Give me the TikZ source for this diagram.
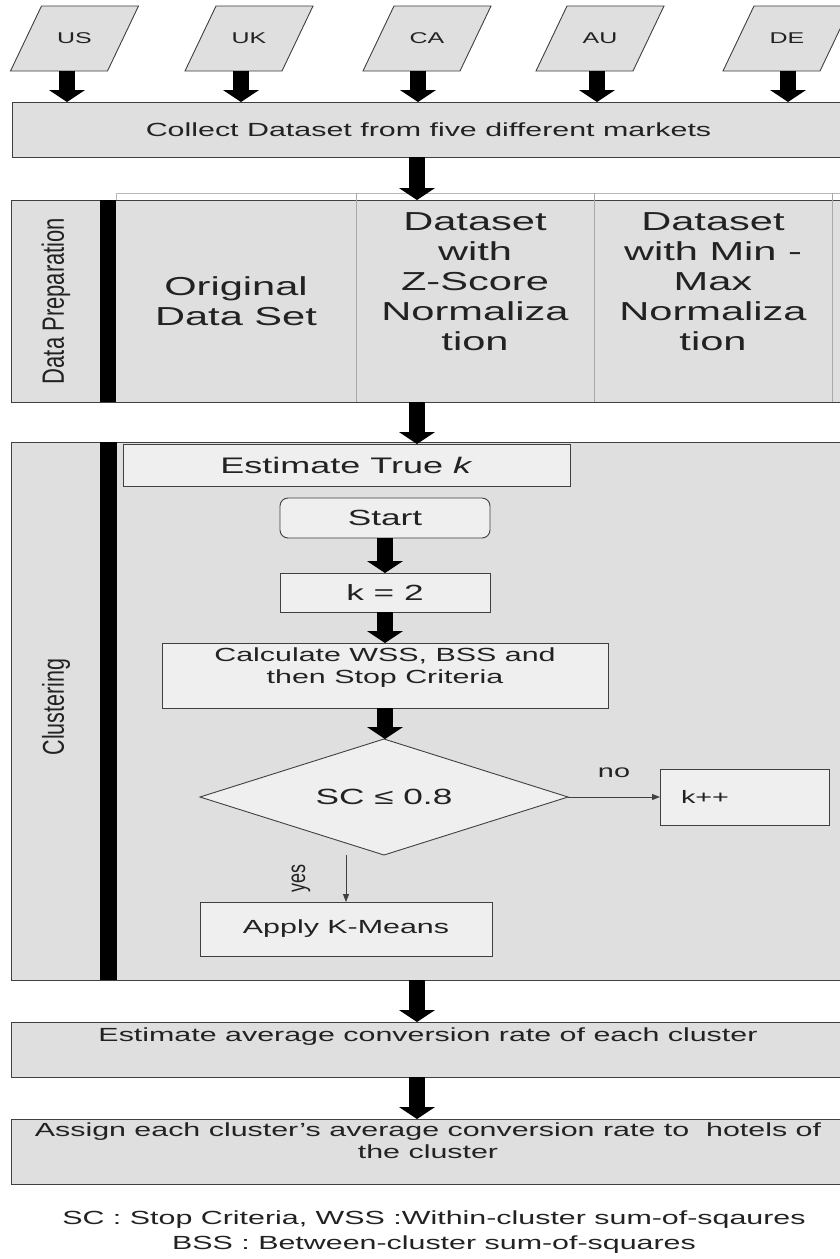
\documentclass[tikz,border=0pt]{standalone}
\usepackage{fontspec}
\usepackage{graphicx}
\setmainfont{Liberation Sans}[FakeStretch=1.6]
\newfontfamily\rotfont{Liberation Sans}
\usetikzlibrary{arrows.meta,shapes.geometric}
\definecolor{bord}{HTML}{404040}
\definecolor{boxgray}{HTML}{DFDFDF}
\definecolor{innergray}{HTML}{EFEFEF}
\definecolor{sepgray}{HTML}{A8A8A8}
\definecolor{txt}{HTML}{222222}
\newcommand{\fs}[2]{\fontsize{#1}{#2}\selectfont}
\begin{document}
\begin{tikzpicture}[x=1pt,y=-1pt,
  every node/.style={text=txt, inner sep=0pt, outer sep=0pt},
  bigbox/.style={draw=bord, fill=boxgray, line width=0.9pt},
  smallbox/.style={draw=bord, fill=innergray, line width=0.9pt},
  pbox/.style={draw=bord, fill=boxgray, line width=0.9pt},
  mtext/.style={minimum width=96pt, minimum height=65pt, font=\fs{15.6}{18}},
  colsep/.style={draw=sepgray, line width=0.7pt},
  bar/.style={fill=black, draw=none},
  fat/.style={draw=black, line width=16pt, -{Triangle[width=36pt,length=12pt,line width=0pt]}},
  thin/.style={draw=bord, line width=1pt, -{Triangle[width=6pt,length=8pt]}},
  boxtext/.style={font=\fs{19}{22}, align=center},
  coltext/.style={font=\fs{26}{30}, align=center},
  sidelab/.style={rotate=90, font=\rotfont\fs{22}{24}}
]
\fill[white] (0,0) rectangle (839,1259);
\useasboundingbox (0,0) rectangle (839,1259);

% markets (parallelograms)
\foreach \nm/\x in {US/74.5,UK/249,CA/427,AU/600,DE/787}{
  \draw[pbox] (\x-64,71) -- (\x+33,71) -- (\x+64,6) -- (\x-33,6) -- cycle;
  \node[mtext] (\nm) at (\x,38.5) {\nm};
}

\node[bigbox, boxtext, minimum width=833pt, minimum height=55pt] (Collect) at (428.5,129.5) {Collect Dataset from five different markets};

% data preparation
\node[draw=sepgray!80, fill=white, line width=0.7pt, minimum width=729pt, minimum height=7pt] (Hdr) at (480.5,196.5) {};
\node[bigbox, minimum width=834pt, minimum height=202pt] (Prep) at (428,301) {};
\node[bar, minimum width=16pt, minimum height=202pt] (Bar1) at (108,301) {};
\node[sidelab] (PrepLab) at (56,301) {\scalebox{1}[1.4]{Data Preparation}};
\coordinate (s1) at (356,0);
\coordinate (s2) at (594,0);
\coordinate (s3) at (832,0);
\draw[colsep] (s1 |- Hdr.north) -- (s1 |- Prep.south);
\draw[colsep] (s2 |- Hdr.north) -- (s2 |- Prep.south);
\draw[colsep] (s3 |- Hdr.north) -- (s3 |- Prep.south);
\node[coltext] (C1) at (236,301) {Original\\Data Set};
\node[coltext, anchor=north] (C2) at (475,213) {Dataset\\with\\Z-Score\\Normaliza\\tion};
\node[coltext, anchor=north] (C3) at (713,213) {Dataset\\with Min -\\Max\\Normaliza\\tion};

% clustering
\node[bigbox, minimum width=834pt, minimum height=538pt] (Clust) at (428,711) {};
\node[bar, minimum width=17pt, minimum height=538pt] (Bar2) at (108.5,711) {};
\node[sidelab, font=\rotfont\fs{21.5}{24}] (ClustLab) at (56,707) {\scalebox{1}[1.4]{Clustering}};
\node[smallbox, minimum width=447pt, minimum height=42pt, font=\fs{22.5}{26}] (Est) at (346.5,465) {Estimate True \textit{k}};
\node[smallbox, rounded corners=8pt, minimum width=210pt, minimum height=40pt, font=\fs{22}{26}] (Start) at (385,518) {Start};
\node[smallbox, minimum width=210pt, minimum height=39pt, font=\fs{22}{26}] (K2) at (385,592.5) {k = 2};
\node[smallbox, minimum width=446pt, minimum height=65pt] (Calc) at (385,675.5) {};
\node[boxtext, anchor=north] (CalcT) at ([yshift=-5pt]Calc.north) {Calculate WSS, BSS and\\then Stop Criteria};
\node[diamond, aspect=3, smallbox, minimum width=368pt, minimum height=116pt, font=\fs{22}{26}] (Dia) at (384,797) {SC ≤ 0.8};
\node[smallbox, minimum width=169pt, minimum height=56pt, text width=127pt, inner xsep=21pt, align=left, font=\fs{18}{22}] (Kpp) at (744.5,797) {k++};
\node[smallbox, minimum width=292pt, minimum height=54pt, font=\fs{19}{22}] (Apply) at (346,929) {Apply K-Means};

% final steps
\node[bigbox, minimum width=834pt, minimum height=55pt] (EstAvg) at (428,1049.5) {};
\node[boxtext, anchor=north] (EstAvgT) at ([yshift=-6pt]EstAvg.north) {Estimate average conversion rate of each cluster};
\node[bigbox, minimum width=834pt, minimum height=65pt] (Assign) at (428,1151.5) {};
\node[boxtext, anchor=north] (AssignT) at ([yshift=-4pt]Assign.north) {Assign each cluster's average conversion rate to\ \ hotels of\\the cluster};

\node[align=center, font=\fs{19}{25}] (Foot) at (434,1232) {SC : Stop Criteria, WSS :Within-cluster sum-of-sqaures\\BSS : Between-cluster sum-of-squares};

% connectors
\coordinate (ax) at (417,0);
\draw[fat] ([xshift=-7.5pt]US.south) -- ([xshift=-7.5pt]US.south |- Collect.north);
\draw[fat] ([xshift=-8pt]UK.south) -- ([xshift=-8pt]UK.south |- Collect.north);
\draw[fat] ([xshift=-9pt]CA.south) -- ([xshift=-9pt]CA.south |- Collect.north);
\draw[fat] ([xshift=-3pt]AU.south) -- ([xshift=-3pt]AU.south |- Collect.north);
\draw[fat] ([xshift=1pt]DE.south) -- ([xshift=1pt]DE.south |- Collect.north);
\draw[fat] (ax |- Collect.south) -- (ax |- Prep.north);
\draw[fat] (ax |- Prep.south) -- (ax |- Est.north);
\draw[fat] (Start.south) -- (K2.north);
\draw[fat] (K2.south) -- (Calc.north);
\draw[fat] (Calc.south) -- (Calc.south |- Dia.north);
\draw[thin] (Dia.east) -- node[midway, yshift=24pt, font=\fs{18}{20}] (NoLab) {no} (Kpp.west);
\draw[thin] (Apply.north |- Dia.south) -- node[midway, xshift=-45pt, rotate=90, font=\rotfont\fs{18}{20}] (YesLab) {\scalebox{1}[1.4]{yes}} (Apply.north);
\draw[fat] (ax |- Clust.south) -- (ax |- EstAvg.north);
\draw[fat] (ax |- EstAvg.south) -- (ax |- Assign.north);
\end{tikzpicture}
\end{document}
